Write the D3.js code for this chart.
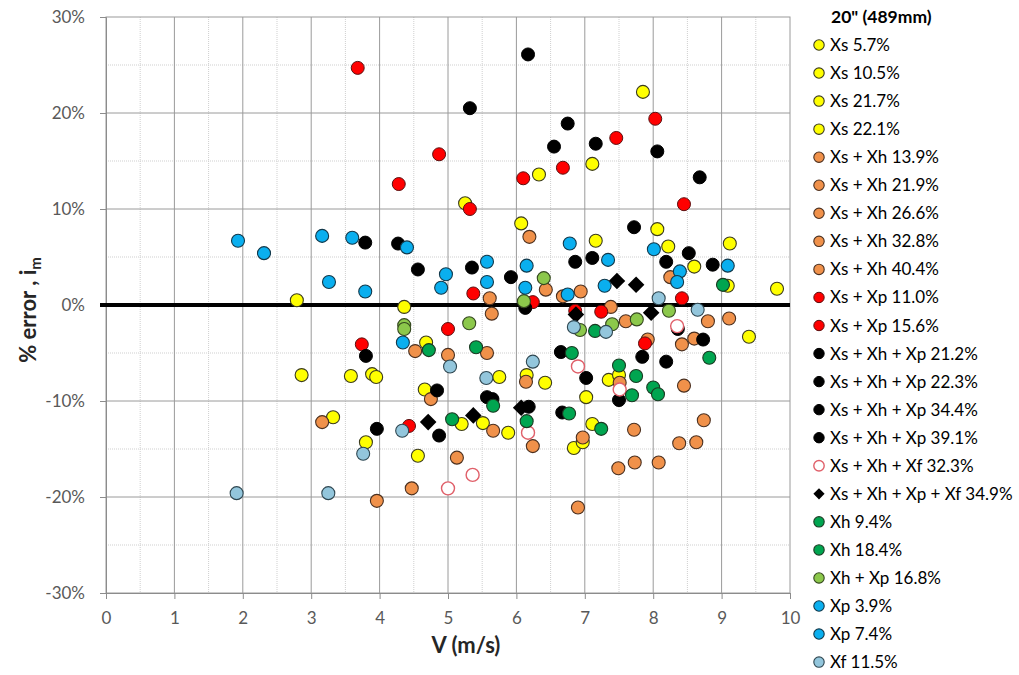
<!DOCTYPE html>
<html><head><meta charset="utf-8">
<script src="https://cdnjs.cloudflare.com/ajax/libs/d3/7.8.5/d3.min.js"></script>
<style>
html,body{margin:0;padding:0;background:#fff;}
svg{display:block;font-family:Lato,"Liberation Sans",sans-serif;}
</style></head>
<body><svg id="chart" width="1019" height="675"></svg>
<script>
// ---------- data: [V (m/s), % error] ----------
const xs_5_7  = [[2.79,0.5],[2.86,-7.3],[3.58,-7.4],[3.89,-7.2],[3.95,-7.5],[3.32,-11.7],[3.80,-14.3],[4.56,-15.7],[4.36,-0.2]];
const xs_10_5 = [[4.68,-3.9],[4.66,-8.8],[7.85,22.2],[7.11,14.7],[6.33,13.6],[5.25,10.6],[6.07,8.5],[7.16,6.7],[8.06,7.9]];
const xs_21_7 = [[8.22,6.1],[9.12,6.4],[8.60,4.0],[9.81,1.7],[9.09,2.0],[9.40,-3.3],[7.35,-7.8],[7.50,-7.3],[5.75,-7.5]];
const xs_22_1 = [[6.15,-7.3],[6.42,-8.1],[5.20,-12.4],[5.51,-12.3],[5.88,-13.3],[6.84,-14.9],[7.02,-9.6],[7.11,-12.4],[6.97,-14.3]];

const xsxh_13_9 = [[3.16,-12.2],[3.96,-20.4],[4.47,-19.1],[4.52,-4.8],[4.75,-9.8],[5.00,-5.2],[5.57,-5.0],[5.64,-0.9]];
const xsxh_21_9 = [[5.61,0.7],[6.19,7.1],[6.43,1.6],[6.68,0.9],[6.94,1.4],[8.25,2.9],[6.14,-8.0]];
const xsxh_26_6 = [[5.66,-13.1],[6.24,-14.7],[5.13,-15.9],[6.90,-21.1],[6.97,-13.8],[7.49,-17.0],[7.73,-16.4]];
const xsxh_32_8 = [[8.08,-16.4],[7.72,-13.0],[8.38,-14.4],[8.63,-14.3],[8.74,-12.0],[8.45,-8.4],[7.51,-8.1]];
const xsxh_40_4 = [[8.42,-4.1],[8.60,-3.5],[8.80,-1.7],[9.11,-1.4],[7.60,-1.7],[7.92,-3.6],[7.38,-0.2]];

const xsxp_11_0 = [[3.68,24.7],[4.87,15.7],[4.28,12.6],[6.10,13.2],[6.68,14.3],[7.46,17.4],[8.03,19.4],[5.32,10.0],[8.45,10.5]];
const xsxp_15_6 = [[5.37,1.2],[8.42,0.7],[6.24,0.3],[5.00,-2.5],[6.86,-0.6],[7.24,-0.7],[7.88,-4.0],[3.74,-4.1],[4.43,-12.6]];

const xsxhxp_21_2 = [[6.17,26.1],[5.32,20.5],[6.75,18.9],[6.55,16.5],[7.16,16.8],[8.06,16.0],[8.68,13.3],[7.72,8.1],[8.52,5.4]];
const xsxhxp_22_3 = [[8.19,4.5],[8.87,4.2],[6.86,4.5],[7.11,4.9],[5.35,3.9],[5.92,2.9],[3.79,6.5],[4.27,6.4]];
const xsxhxp_34_4 = [[4.56,3.7],[6.13,-0.3],[3.80,-5.3],[6.65,-4.9],[8.73,-3.6],[7.84,-5.4],[8.19,-5.9],[7.02,-7.6],[8.36,-2.5]];
const xsxhxp_39_1 = [[7.50,-9.9],[5.57,-9.6],[5.65,-9.8],[6.18,-10.6],[6.67,-11.2],[4.84,-8.9],[3.96,-12.9],[4.87,-13.6]];

const xsxhxf_32_3 = [[8.35,-2.2],[6.90,-6.4],[7.51,-8.8],[6.17,-13.3],[5.36,-17.7],[5.00,-19.1]];
const xsxhxpxf_34_9 = [[7.47,2.5],[7.75,2.1],[5.37,-11.5],[6.07,-10.7],[6.87,-1.0],[7.97,-0.8],[4.71,-12.2]];

const xh_9_4  = [[9.02,2.1],[5.41,-4.4],[4.72,-4.7],[6.81,-5.0],[7.15,-2.7],[7.50,-6.3],[7.75,-7.4],[7.69,-9.4]];
const xh_18_4 = [[8.00,-8.6],[8.07,-9.3],[8.82,-5.5],[5.66,-10.5],[5.06,-11.9],[6.15,-12.1],[6.77,-11.3],[7.24,-12.9]];
const xhxp_16_8 = [[6.40,2.8],[6.11,0.4],[5.31,-1.9],[4.36,-2.1],[4.36,-2.5],[7.40,-2.0],[7.76,-1.5],[8.23,-0.6],[6.93,-2.6]];

const xp_3_9 = [[1.93,6.7],[2.31,5.4],[3.16,7.2],[3.60,7.0],[4.40,6.0],[3.26,2.4],[3.79,1.4],[4.97,3.2],[4.90,1.8],[5.57,4.5],[5.57,2.4]];
const xp_7_4 = [[6.15,4.1],[6.13,1.8],[6.78,6.4],[7.34,4.7],[7.29,2.0],[6.75,1.1],[8.01,5.8],[8.39,3.5],[8.35,2.4],[9.09,4.1],[4.34,-3.9]];
const xf_11_5 = [[1.91,-19.6],[3.25,-19.6],[3.76,-15.5],[4.33,-13.1],[5.03,-6.4],[6.84,-2.3],[6.24,-5.9],[5.56,-7.6],[7.31,-2.8],[8.08,0.7],[8.65,-0.5]];

const xTicks = [0,1,2,3,4,5,6,7,8,9,10];
const yTicks = [-30,-20,-10,0,10,20,30];
const legendTitle = '20" (489mm)';

const series = [
  {name:"Xs 5.7%", kind:"yellow", data:xs_5_7},
  {name:"Xs 10.5%", kind:"yellow", data:xs_10_5},
  {name:"Xs 21.7%", kind:"yellow", data:xs_21_7},
  {name:"Xs 22.1%", kind:"yellow", data:xs_22_1},
  {name:"Xs + Xh 13.9%", kind:"orange", data:xsxh_13_9},
  {name:"Xs + Xh 21.9%", kind:"orange", data:xsxh_21_9},
  {name:"Xs + Xh 26.6%", kind:"orange", data:xsxh_26_6},
  {name:"Xs + Xh 32.8%", kind:"orange", data:xsxh_32_8},
  {name:"Xs + Xh 40.4%", kind:"orange", data:xsxh_40_4},
  {name:"Xs + Xp 11.0%", kind:"red", data:xsxp_11_0},
  {name:"Xs + Xp 15.6%", kind:"red", data:xsxp_15_6},
  {name:"Xs + Xh + Xp 21.2%", kind:"black", data:xsxhxp_21_2},
  {name:"Xs + Xh + Xp 22.3%", kind:"black", data:xsxhxp_22_3},
  {name:"Xs + Xh + Xp 34.4%", kind:"black", data:xsxhxp_34_4},
  {name:"Xs + Xh + Xp 39.1%", kind:"black", data:xsxhxp_39_1},
  {name:"Xs + Xh + Xf 32.3%", kind:"open", data:xsxhxf_32_3},
  {name:"Xs + Xh + Xp + Xf 34.9%", kind:"diamond", data:xsxhxpxf_34_9},
  {name:"Xh 9.4%", kind:"green", data:xh_9_4},
  {name:"Xh 18.4%", kind:"green", data:xh_18_4},
  {name:"Xh + Xp 16.8%", kind:"lgreen", data:xhxp_16_8},
  {name:"Xp 3.9%", kind:"blue", data:xp_3_9},
  {name:"Xp 7.4%", kind:"blue", data:xp_7_4},
  {name:"Xf 11.5%", kind:"lblue", data:xf_11_5}
];

const styles = {
  yellow:{fill:"#FFFF00", stroke:"#3b3b1e", sw:1.1},
  orange:{fill:"#F0914A", stroke:"#4a3020", sw:1.1},
  red:{fill:"#FF0000", stroke:"#5a1010", sw:1},
  black:{fill:"#000000", stroke:"#000000", sw:1},
  open:{fill:"#FFFFFF", stroke:"#E0606A", sw:1.4},
  diamond:{fill:"#000000", stroke:"#000000", sw:1},
  green:{fill:"#00A550", stroke:"#1a3a22", sw:1.1},
  lgreen:{fill:"#8CC84B", stroke:"#34471f", sw:1.1},
  blue:{fill:"#0AAFEF", stroke:"#12384a", sw:1.1},
  lblue:{fill:"#93C6DC", stroke:"#2e4650", sw:1.1}
};

// ---------- chart ----------
const svg = d3.select("#chart");
const L=106, R=790, T=17, B=593;
const x = d3.scaleLinear().domain([0,10]).range([L,R]);
const y = d3.scaleLinear().domain([-30,30]).range([B,T]);

const grid = svg.append("g");
// minor grid
grid.selectAll(".mv").data(d3.range(0.5,10,1)).join("line")
  .attr("x1",d=>x(d)).attr("x2",d=>x(d)).attr("y1",T).attr("y2",B)
  .attr("stroke","#cfcfcf").attr("stroke-width",1).attr("stroke-dasharray","1,1");
grid.selectAll(".mh").data(d3.range(-25,30,10)).join("line")
  .attr("y1",d=>y(d)).attr("y2",d=>y(d)).attr("x1",L).attr("x2",R)
  .attr("stroke","#cfcfcf").attr("stroke-width",1).attr("stroke-dasharray","1,1");
// major grid
grid.selectAll(".Mv").data(xTicks.slice(1,-1)).join("line")
  .attr("x1",d=>x(d)).attr("x2",d=>x(d)).attr("y1",T).attr("y2",B)
  .attr("stroke","#9a9a9a").attr("stroke-width",1);
grid.selectAll(".Mh").data(yTicks.slice(1,-1)).join("line")
  .attr("y1",d=>y(d)).attr("y2",d=>y(d)).attr("x1",L).attr("x2",R)
  .attr("stroke","#9a9a9a").attr("stroke-width",1);
svg.append("rect").attr("x",L).attr("y",T).attr("width",R-L).attr("height",B-T)
  .attr("fill","none").attr("stroke","#9a9a9a").attr("stroke-width",1);

// axes
const yAxis = svg.append("g").attr("transform",`translate(${L},0)`)
  .call(d3.axisLeft(y).tickValues(yTicks).tickFormat(d=>d+"%").tickSize(6).tickPadding(15));
const xAxis = svg.append("g").attr("transform",`translate(0,${B})`)
  .call(d3.axisBottom(x).tickValues(xTicks).tickFormat(d3.format("d")).tickSize(6).tickPadding(13));
[yAxis,xAxis].forEach(a=>{
  a.select(".domain").attr("stroke","#8c8c8c");
  a.selectAll(".tick line").attr("stroke","#8c8c8c");
  a.selectAll("text").attr("fill","#595959").style("font-size","17px").style("font-family","Lato,sans-serif");
});

// zero line
svg.append("line").attr("x1",L-6).attr("x2",R).attr("y1",y(0)).attr("y2",y(0))
  .attr("stroke","#000").attr("stroke-width",4);

// points
const diamond = d3.symbol().type(d3.symbolDiamond2).size(175);
series.forEach(s=>{
  const st = styles[s.kind];
  const g = svg.append("g");
  if(s.kind==="diamond"){
    g.selectAll("path").data(s.data).join("path")
      .attr("d",diamond).attr("transform",d=>`translate(${x(d[0])},${y(d[1])})`)
      .attr("fill",st.fill);
  } else {
    g.selectAll("circle").data(s.data).join("circle")
      .attr("cx",d=>x(d[0])).attr("cy",d=>y(d[1])).attr("r",6.5)
      .attr("fill",st.fill).attr("stroke",st.stroke).attr("stroke-width",st.sw);
  }
});

// axis titles
svg.append("text").attr("x",466).attr("y",653).attr("text-anchor","middle")
  .style("font-size","22px").style("font-weight","bold").attr("fill","#262626").text("V (m/s)");
const yt = svg.append("text").attr("transform","translate(36,310) rotate(-90)").attr("text-anchor","middle")
  .style("font-size","22px").style("font-weight","bold").attr("fill","#262626");
yt.append("tspan").text("% error , i");
yt.append("tspan").attr("dy",5).style("font-size","15px").text("m");

// legend
const lg = svg.append("g");
lg.append("text").attr("x",831).attr("y",23).style("font-size","17.5px").style("font-weight","bold")
  .attr("fill","#000").text(legendTitle);
series.forEach((s,i)=>{
  const st = styles[s.kind];
  const cy = 45 + i*28.05;
  if(s.kind==="diamond"){
    lg.append("path").attr("d",d3.symbol().type(d3.symbolDiamond2).size(80)())
      .attr("transform",`translate(819,${cy})`).attr("fill","#000");
  } else {
    lg.append("circle").attr("cx",819).attr("cy",cy).attr("r",5.2)
      .attr("fill",st.fill).attr("stroke",st.stroke).attr("stroke-width",st.sw);
  }
  lg.append("text").attr("x",830).attr("y",cy+6).style("font-size","17px").attr("fill","#000").text(s.name);
});
</script></body></html>
